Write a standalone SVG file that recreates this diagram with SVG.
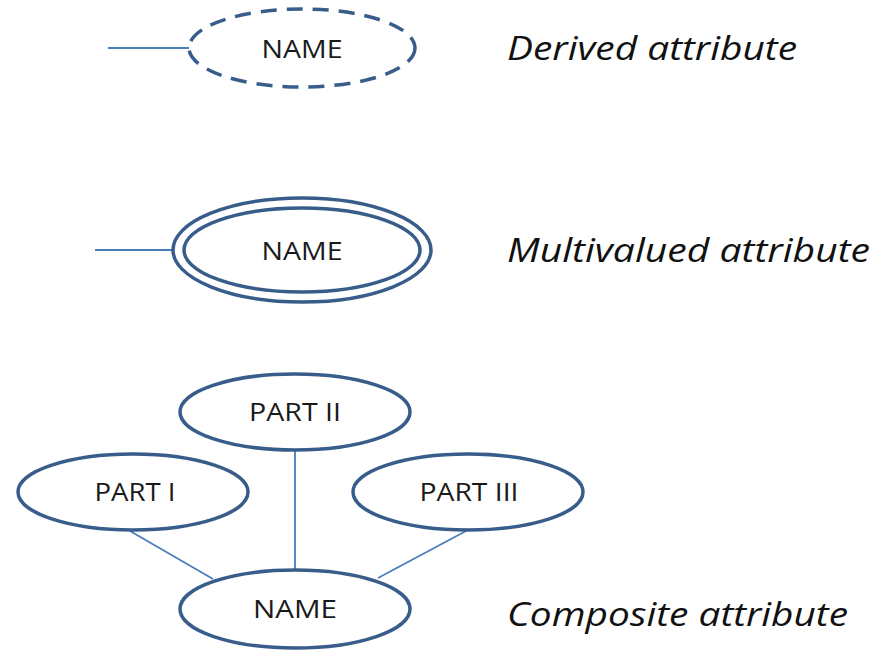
<svg xmlns="http://www.w3.org/2000/svg" width="881" height="652" viewBox="0 0 881 652">
  <style>
    .shape { fill: #ffffff; stroke: #385d8a; stroke-width: 3.5; }
    .dashed { stroke-dasharray: 16 10; }
    .link { stroke: #4a7ebb; stroke-width: 1.8; fill: none; }
    .lbl { font-family: "Open Sans", "Liberation Sans", sans-serif; font-size: 25px; fill: #1a1a1a; text-anchor: middle; dominant-baseline: central; }
    .cap { font-family: "Open Sans", "Liberation Sans", sans-serif; font-size: 33px; font-style: italic; fill: #111111; }
  </style>
  <rect width="881" height="652" fill="#ffffff"/>

  <g id="connectors">
    <line class="link" x1="108" y1="48" x2="189" y2="48"/>
    <line class="link" x1="95" y1="250" x2="173" y2="250"/>
    <line class="link" x1="295" y1="450" x2="295" y2="571"/>
    <line class="link" x1="130" y1="531" x2="213" y2="579"/>
    <line class="link" x1="466" y1="531" x2="378" y2="578"/>
  </g>

  <g id="derived">
    <ellipse class="shape dashed" cx="302" cy="48" rx="113" ry="39"/>
    <text class="lbl" x="302" y="48" textLength="81" lengthAdjust="spacingAndGlyphs">NAME</text>
  </g>

  <g id="multivalued">
    <ellipse class="shape" cx="302" cy="250" rx="129" ry="52"/>
    <ellipse class="shape" cx="302" cy="250" rx="118" ry="42"/>
    <text class="lbl" x="302" y="250" textLength="81" lengthAdjust="spacingAndGlyphs">NAME</text>
  </g>

  <g id="part2">
    <ellipse class="shape" cx="295" cy="412" rx="115" ry="38"/>
    <text class="lbl" x="295" y="411" textLength="92" lengthAdjust="spacingAndGlyphs">PART II</text>
  </g>
  <g id="part1">
    <ellipse class="shape" cx="133" cy="492" rx="115" ry="38"/>
    <text class="lbl" x="135" y="491" textLength="81" lengthAdjust="spacingAndGlyphs">PART I</text>
  </g>
  <g id="part3">
    <ellipse class="shape" cx="468" cy="492" rx="115" ry="38"/>
    <text class="lbl" x="469" y="491" textLength="99" lengthAdjust="spacingAndGlyphs">PART III</text>
  </g>
  <g id="composite">
    <ellipse class="shape" cx="295" cy="609" rx="115" ry="39"/>
    <text class="lbl" x="295" y="608" textLength="84" lengthAdjust="spacingAndGlyphs">NAME</text>
  </g>

  <g id="captions">
    <text class="cap" x="507" y="60" textLength="290" lengthAdjust="spacingAndGlyphs">Derived attribute</text>
    <text class="cap" x="507" y="262" textLength="363" lengthAdjust="spacingAndGlyphs">Multivalued attribute</text>
    <text class="cap" x="507" y="626" textLength="341" lengthAdjust="spacingAndGlyphs">Composite attribute</text>
  </g>
</svg>
